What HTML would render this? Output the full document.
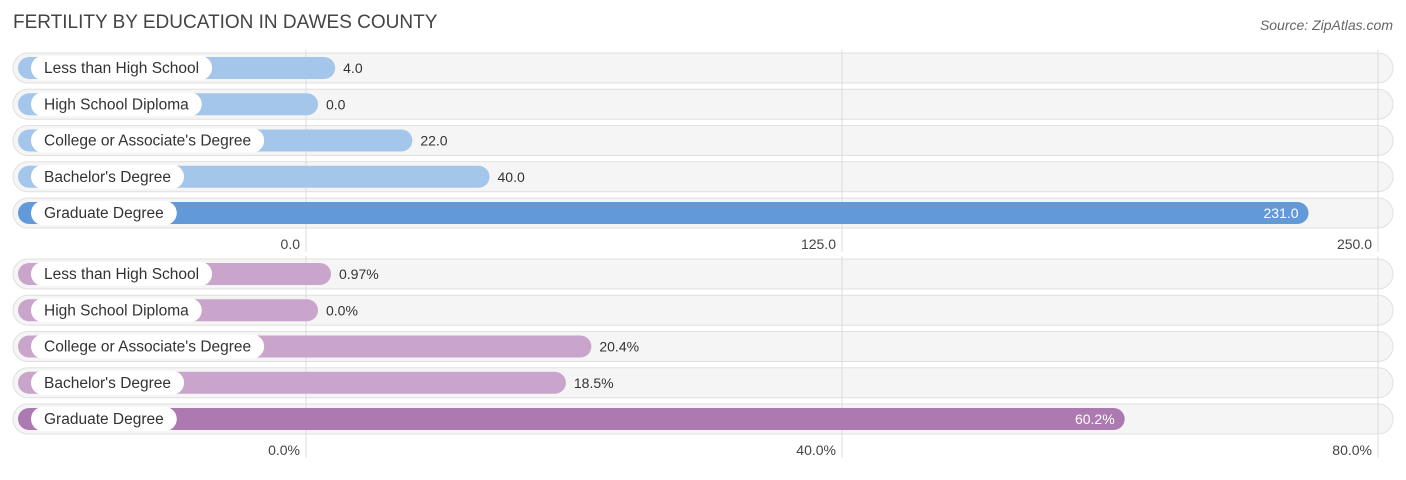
<!DOCTYPE html>
<html><head><meta charset="utf-8"><style>
body{margin:0;background:#fff;width:1406px;height:475px;overflow:hidden;font-family:"Liberation Sans",sans-serif}
</style></head><body>
<svg id="c" width="1406" height="475" xmlns="http://www.w3.org/2000/svg">
<text x="13" y="28" font-size="19" fill="#444">FERTILITY BY EDUCATION IN DAWES COUNTY</text>
<text x="1393" y="30" font-size="14" fill="#666" font-style="italic" text-anchor="end">Source: ZipAtlas.com</text>
</svg>
<script>
const categories=["Less than High School","High School Diploma","College or Associate's Degree","Bachelor's Degree","Graduate Degree"];
const topValues=[4.0,0.0,22.0,40.0,231.0];
const topTicks=[0,125,250];
const topTickLabels=["0.0","125.0","250.0"];
const botValues=[0.97,0.0,20.4,18.5,60.2];
const botTicks=[0,40,80];
const botTickLabels=["0.0%","40.0%","80.0%"];
const svg=document.getElementById('c');
const NS='http://www.w3.org/2000/svg';
function mk(t,a,p){const e=document.createElementNS(NS,t);for(const k in a)e.setAttribute(k,a[k]);(p||svg).appendChild(e);return e;}
function panel(vals,ticks,tlabels,rowY,axisY,max,light,dark,fmt,prefix){
  const x=v=>306+v*(1072/max);
  const g=mk('g',{});
  
  
  vals.forEach((v,i)=>{
    const cy=rowY[0]+i*36.25;
    const tr=mk('rect',{x:13,y:cy-15,width:1380,height:30,rx:15,fill:'#f5f5f5',stroke:'#e0e0e0'},g);
    
    
  });
  ticks.forEach((t,i)=>{
    const l=mk('line',{x1:x(t),x2:x(t),y1:rowY[0]-18,y2:axisY+8,stroke:'#ddd'},g);
    
    
    const tx=mk('text',{x:x(t)-6,y:axisY+5,'font-size':14,fill:'#444','text-anchor':'end'},g);
    tx.textContent=tlabels[i];
    
    
  });
  const maxIdx=vals.indexOf(Math.max(...vals));
  vals.forEach((v,i)=>{
    const cy=rowY[0]+i*36.25;
    const end=x(v)+12;
    const b=mk('rect',{x:18,y:cy-11,width:end-18,height:22,rx:11,fill:i===maxIdx?dark:light},g);
    
    
    const lt=mk('text',{x:44,y:cy+5,'font-size':15.5,fill:'#333'},g);
    lt.textContent=categories[i];
    const w=lt.getComputedTextLength();
    const pill=mk('rect',{x:31,y:cy-12,width:w+26,height:24,rx:12,fill:'#fff'},g);
    g.insertBefore(pill,lt);
    
    
    
    
    const inside=i===maxIdx;
    const vt=mk('text',{x:inside?end-10:end+8,y:cy+5,'font-size':14,fill:inside?'#fff':'#333','text-anchor':inside?'end':'start'},g);
    vt.textContent=fmt(v);
    
    
  });
}
panel(topValues,topTicks,topTickLabels,[68],244,250,'#a4c6ea','#6199d9',v=>v.toFixed(1),'count');
panel(botValues,botTicks,botTickLabels,[274],450,80,'#c9a4cb','#ad79b1',v=>(v<1&&v>0?v.toFixed(2):v.toFixed(1))+'%','percent');
</script>
</body></html>
